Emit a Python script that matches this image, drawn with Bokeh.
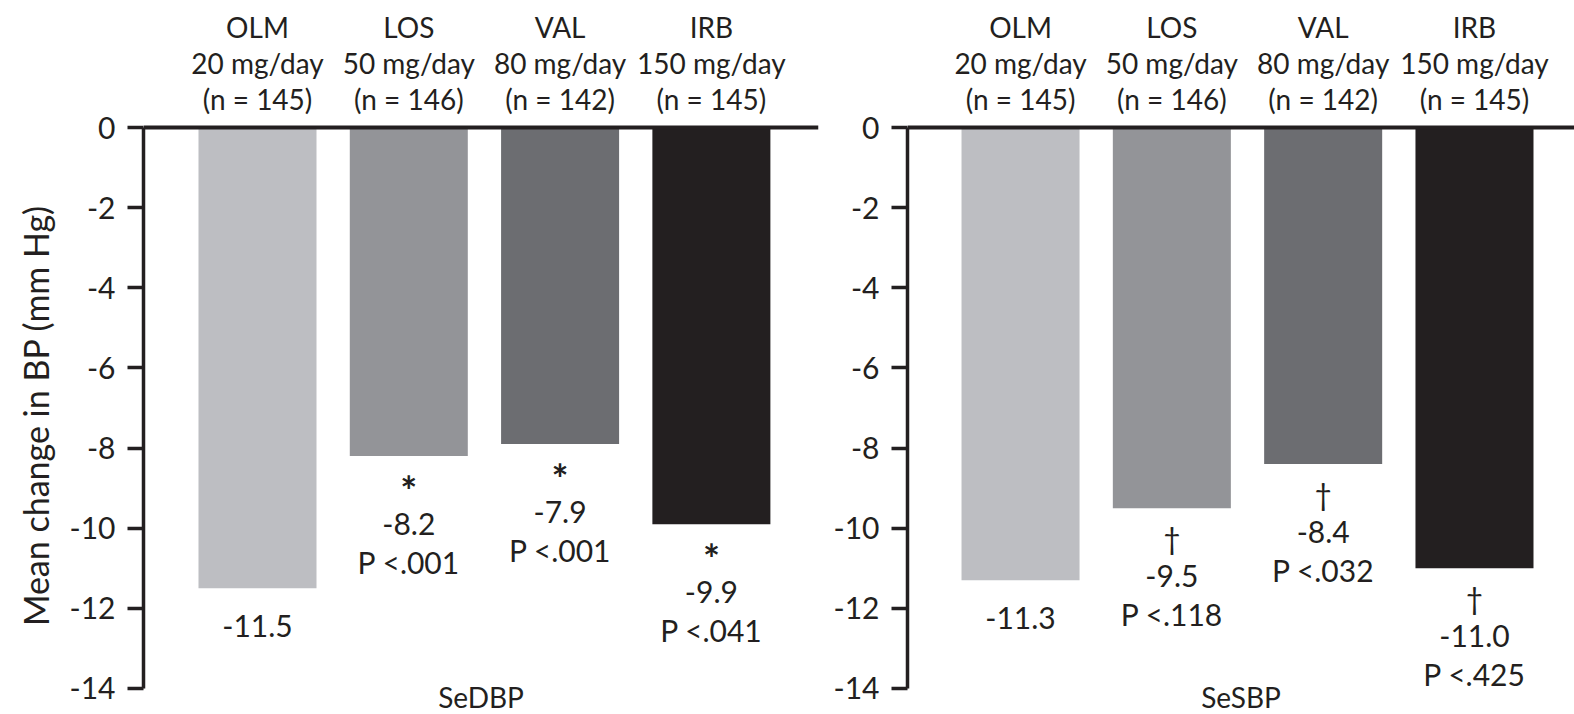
import math
from bokeh.plotting import figure
from bokeh.layouts import row
from bokeh.models import ColumnDataSource, FixedTicker, Range1d, Span
from bokeh.core.properties import value
from bokeh.embed import file_html
from bokeh.resources import INLINE

# ---------------- data ----------------
drugs = ["OLM", "LOS", "VAL", "IRB"]
doses = ["20 mg/day", "50 mg/day", "80 mg/day", "150 mg/day"]
n_labels = ["(n = 145)", "(n = 146)", "(n = 142)", "(n = 145)"]
colors = ["#bdbec2", "#939498", "#6c6d71", "#231f20"]

sedbp_values = [-11.5, -8.2, -7.9, -9.9]
sedbp_marks = ["", "*", "*", "*"]
sedbp_p = ["", "P <.001", "P <.001", "P <.041"]

sesbp_values = [-11.3, -9.5, -8.4, -11.0]
sesbp_marks = ["", "\u2020", "\u2020", "\u2020"]
sesbp_p = ["", "P <.118", "P <.032", "P <.425"]

y_ticks = [0, -2, -4, -6, -8, -10, -12, -14]
y_title = "Mean change in BP (mm Hg)"

FONT = "Lato"
FS = "30px"
HFS = "28px"
INK = "#231f20"


def panel(title, vals, marks, pvals, mark_fs, mark_style, mark_dy,
          width, border_left, border_right, x_start, x_end):
    p = figure(width=width, height=714, output_backend="svg", toolbar_location=None,
               x_range=Range1d(x_start, x_end), y_range=Range1d(-14.65, 3.17),
               x_axis_location=None, min_border_left=border_left, min_border_right=border_right,
               min_border_top=0, min_border_bottom=0)
    p.outline_line_color = None
    p.xgrid.visible = False
    p.ygrid.visible = False

    xs = [i + 1 for i in range(len(vals))]
    src = ColumnDataSource(dict(x=xs, v=vals, c=colors))
    p.vbar(x="x", top=0, bottom="v", width=0.78, fill_color="c", line_color=None, source=src)

    # zero line
    p.add_layout(Span(location=0, dimension="width", line_color=INK, line_width=4))

    # y axis
    ax = p.yaxis[0]
    ax.ticker = FixedTicker(ticks=y_ticks)
    ax.bounds = (-14, 0)
    ax.major_label_overrides = {t: ("%d" % t) for t in y_ticks}
    ax.axis_line_width = 3.5
    ax.axis_line_color = INK
    ax.major_tick_line_width = 3.5
    ax.major_tick_line_color = INK
    ax.major_tick_out = 16
    ax.major_tick_in = 0
    ax.minor_tick_line_color = None
    ax.major_label_standoff = 12
    ax.major_label_text_font = FONT
    ax.major_label_text_font_size = FS
    ax.major_label_text_color = INK

    # header labels
    hx, hy, ht = [], [], []
    for i in range(len(vals)):
        hx += [xs[i]] * 3
        hy += [2.5, 1.62, 0.72]
        ht += [drugs[i], doses[i], n_labels[i]]
    p.text(x=hx, y=hy, text=ht, text_font=value(FONT), text_font_size=value(HFS),
           text_align="center", text_baseline="middle", text_color=INK)

    # significance marks
    mx, my, mt = [], [], []
    for i, v in enumerate(vals):
        if marks[i]:
            mx.append(xs[i])
            my.append(v - mark_dy)
            mt.append(marks[i])
    p.text(x=mx, y=my, text=mt, text_font=value(FONT), text_font_size=value(mark_fs),
           text_font_style=mark_style, text_align="center", text_baseline="middle",
           text_color=INK)

    # value and P lines below bars
    tx, ty, tt = [], [], []
    for i, v in enumerate(vals):
        first = 1.7 if marks[i] else 0.95
        lines = ["%.1f" % v] + ([pvals[i]] if pvals[i] else [])
        for j, s in enumerate(lines):
            tx.append(xs[i])
            ty.append(v - first - j * 0.95)
            tt.append(s)
    p.text(x=tx, y=ty, text=tt, text_font=value(FONT), text_font_size=value(FS),
           text_align="center", text_baseline="middle", text_color=INK)

    # panel title at bottom
    p.text(x=[(x_start + x_end) / 2], y=[-14.22], text=[title], text_font=value(FONT),
           text_font_size=value(HFS), text_align="center", text_baseline="middle",
           text_color=INK)
    return p


# narrow figure holding the rotated y-axis title
ylab = figure(width=66, height=714, output_backend="svg", toolbar_location=None,
              x_range=Range1d(0, 66), y_range=Range1d(0, 714),
              x_axis_location=None, y_axis_location=None,
              min_border_left=0, min_border_right=0, min_border_top=0, min_border_bottom=0)
ylab.outline_line_color = None
ylab.xgrid.visible = False
ylab.ygrid.visible = False
ylab.text(x=[35], y=[299], text=[y_title], angle=math.pi / 2, text_font=value(FONT),
          text_font_size=value("34px"), text_align="center", text_baseline="middle",
          text_color=INK)

left = panel("SeDBP", sedbp_values, sedbp_marks, sedbp_p, "40px", "bold", 0.87,
             764, 77, 12, 0.2465, 4.708)
right = panel("SeSBP", sesbp_values, sesbp_marks, sesbp_p, FS, "normal", 0.75,
              744, 77, 0, 0.253, 4.661)

layout = row(ylab, left, right, spacing=0)
open("out.html", "w").write(file_html(layout, INLINE))
